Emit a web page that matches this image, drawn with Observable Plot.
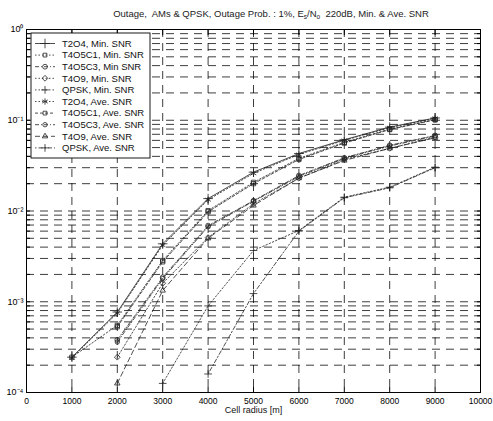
<!DOCTYPE html>
<html><head><meta charset="utf-8">
<script src="https://cdn.jsdelivr.net/npm/d3@7"></script>
<script src="https://cdn.jsdelivr.net/npm/@observablehq/plot@0.6"></script>
<style>body{margin:0;background:#fff}</style>
</head><body><div id="chart"></div>
<script>
// ---- data ----
const radius = [1000, 2000, 3000, 4000, 5000, 6000, 7000, 8000, 9000];
const T2O4_min   = [2.45e-4, 7.7e-4, 4.35e-3, 1.37e-2, 2.68e-2, 4.3e-2, 6.1e-2, 8.4e-2, 1.06e-1];
const T4O5C1_min = [2.45e-4, 5.5e-4, 2.85e-3, 1.01e-2, 2.07e-2, 3.8e-2, 5.7e-2, 8.0e-2, 1.02e-1];
const T4O5C3_min = [null, 3.8e-4, 1.86e-3, 6.9e-3, 1.3e-2, 2.46e-2, 3.86e-2, 5.3e-2, 6.8e-2];
const T4O9_min   = [null, 2.45e-4, 1.6e-3, 5.1e-3, 1.2e-2, 2.3e-2, 3.7e-2, 4.9e-2, 6.5e-2];
const QPSK_min   = [null, null, 1.26e-4, 9.0e-4, 3.67e-3, 6.1e-3, 1.42e-2, 1.83e-2, 3.04e-2];
const T2O4_ave   = [2.4e-4, 7.5e-4, 4.2e-3, 1.33e-2, 2.6e-2, 4.2e-2, 6.0e-2, 8.3e-2, 1.05e-1];
const T4O5C1_ave = [null, 5.3e-4, 2.75e-3, 9.8e-3, 2.0e-2, 3.7e-2, 5.6e-2, 7.9e-2, 1.01e-1];
const T4O5C3_ave = [null, 3.6e-4, 1.8e-3, 6.7e-3, 1.28e-2, 2.4e-2, 3.8e-2, 5.2e-2, 6.7e-2];
const T4O9_ave   = [null, 1.26e-4, 1.33e-3, 5.0e-3, 1.15e-2, 2.3e-2, 3.6e-2, 4.9e-2, 6.4e-2];
const QPSK_ave   = [null, null, null, 1.6e-4, 1.23e-3, 6.0e-3, 1.4e-2, 1.8e-2, 3.0e-2];

const seriesNames = ["T2O4, Min. SNR", "T4O5C1, Min. SNR", "T4O5C3, Min SNR", "T4O9, Min. SNR", "QPSK, Min. SNR",
                     "T2O4, Ave. SNR", "T4O5C1, Ave. SNR", "T4O5C3, Ave. SNR", "T4O9, Ave. SNR", "QPSK, Ave. SNR"];
const seriesValues = [T2O4_min, T4O5C1_min, T4O5C3_min, T4O9_min, QPSK_min,
                      T2O4_ave, T4O5C1_ave, T4O5C3_ave, T4O9_ave, QPSK_ave];

const xTicks = [0, 1000, 2000, 3000, 4000, 5000, 6000, 7000, 8000, 9000, 10000];
const xGridTicks = [1000, 2000, 3000, 4000, 5000, 6000, 7000, 8000, 9000];
const yLabelTicks = [1e-4, 1e-3, 1e-2, 1e-1, 1];
const yTickLabels = ["10\u207B\u2074", "10\u207B\u00B3", "10\u207B\u00B2", "10\u207B\u00B9", "10\u2070"];
const xAxisLabel = "Cell radius [m]";
const titleText = ["Outage,  AMs & QPSK, Outage Prob. : 1%, E", "s", "/N", "o", "  220dB, Min. & Ave. SNR"];

// ---- styles ----
const styles = [
  {dash: null,        symbol: "plus",     r: 3.2},
  {dash: "1.5,2",     symbol: "square",   r: 2.4},
  {dash: "4,2,1,2",   symbol: "circle",   r: 2.4},
  {dash: "1.5,2",     symbol: "diamond2", r: 2.6},
  {dash: "1.5,2",     symbol: "plus",     r: 2.6},
  {dash: "1.5,2",     symbol: "asterisk", r: 3.0},
  {dash: "3,2",       symbol: "square",   r: 2.4},
  {dash: "4,2,1,2",   symbol: "circle",   r: 2.2},
  {dash: "5,3",       symbol: "triangle2",r: 2.6},
  {dash: "1.5,2,4,2", symbol: "plus",     r: 2.6}
];

const rowsFor = (i) => radius.map((x, j) => ({x, y: seriesValues[i][j], name: seriesNames[i]})).filter(d => d.y != null);

const yGrid = d3.scaleLog().domain([1e-4, 1]).ticks();
const gridStyle = {stroke: "#000", strokeOpacity: 0.85, strokeWidth: 0.9, strokeDasharray: "8,6"};

const marks = [
  Plot.gridY(yGrid, gridStyle),
  Plot.gridX(xGridTicks, gridStyle),
  Plot.axisY(yGrid, {anchor: "left", tickSize: 4, insetLeft: 4, tickFormat: () => "", label: null}),
  Plot.axisY(yGrid, {anchor: "right", tickSize: 4, insetRight: 4, tickFormat: () => "", label: null}),
  Plot.axisX(xTicks, {anchor: "bottom", tickSize: 5, insetBottom: 5, tickFormat: () => "", label: null}),
  Plot.axisX(xTicks, {anchor: "top", tickSize: 5, insetTop: 5, tickFormat: () => "", label: null}),
  Plot.axisY(yLabelTicks, {anchor: "left", tickSize: 0, tickPadding: 3, fontSize: 9, label: null, tickFormat: d => yTickLabels[yLabelTicks.indexOf(d)]}),
  Plot.axisX(xTicks, {anchor: "bottom", tickSize: 0, tickPadding: 5, fontSize: 8.5, label: null, tickFormat: d => String(d)}),
  Plot.text([xAxisLabel], {frameAnchor: "bottom", dy: 20, fontSize: 9, fill: "#111"}),
  Plot.frame({stroke: "#000", strokeWidth: 1})
];
seriesValues.forEach((_, i) => {
  const st = styles[i];
  const rows = rowsFor(i);
  marks.push(Plot.line(rows, {x: "x", y: "y", stroke: "#222", strokeWidth: 0.8, strokeDasharray: st.dash}));
  marks.push(Plot.dot(rows, {x: "x", y: "y", symbol: st.symbol, r: st.r, stroke: "#222", strokeWidth: 0.8, fill: "none"}));
});

const chart = Plot.plot({
  width: 493, height: 421,
  marginLeft: 26, marginRight: 13, marginTop: 29, marginBottom: 29,
  style: {fontFamily: "Liberation Sans, Arial, sans-serif", fontSize: "9px", background: "#fff", color: "#000"},
  x: {domain: [0, 10000], label: null},
  y: {type: "log", domain: [1e-4, 1], label: null},
  marks
});
document.getElementById("chart").appendChild(chart);

// ---- title ----
const svg = d3.select(chart);
const t = svg.append("text").attr("x", 271).attr("y", 17).attr("text-anchor", "middle")
  .attr("font-size", 9.5).attr("fill", "#222").attr("font-family", "Liberation Sans, Arial, sans-serif");
titleText.forEach((s, i) => {
  const sp = t.append("tspan").text(s);
  if (i === 1 || i === 3) sp.attr("font-size", 6.5).attr("dy", 2);
  if (i === 2 || i === 4) sp.attr("dy", -2);
});

// ---- legend ----
const symMap = {plus: d3.symbolPlus, square: d3.symbolSquare2, circle: d3.symbolCircle, diamond2: d3.symbolDiamond2,
                asterisk: d3.symbolAsterisk, triangle2: d3.symbolTriangle2};
const lg = svg.append("g").attr("font-family", "Liberation Sans, Arial, sans-serif").attr("font-size", 9.5)
  .attr("text-anchor", "start");
lg.append("rect").attr("x", 31).attr("y", 33).attr("width", 119).attr("height", 125)
  .attr("fill", "#fff").attr("stroke", "#000").attr("stroke-width", 0.9);
seriesNames.forEach((name, i) => {
  const y = 43.5 + i * 11.6;
  const st = styles[i];
  lg.append("line").attr("x1", 35).attr("x2", 55).attr("y1", y).attr("y2", y)
    .attr("stroke", "#222").attr("stroke-width", 0.8).attr("stroke-dasharray", st.dash);
  lg.append("path").attr("d", d3.symbol(symMap[st.symbol], Math.PI * st.r * st.r)())
    .attr("transform", `translate(45,${y})`).attr("fill", "none").attr("stroke", "#222").attr("stroke-width", 0.8);
  lg.append("text").attr("x", 62).attr("y", y).attr("dy", "0.35em").attr("text-anchor", "start").attr("fill", "#111").text(name);
});
</script>
</body></html>
